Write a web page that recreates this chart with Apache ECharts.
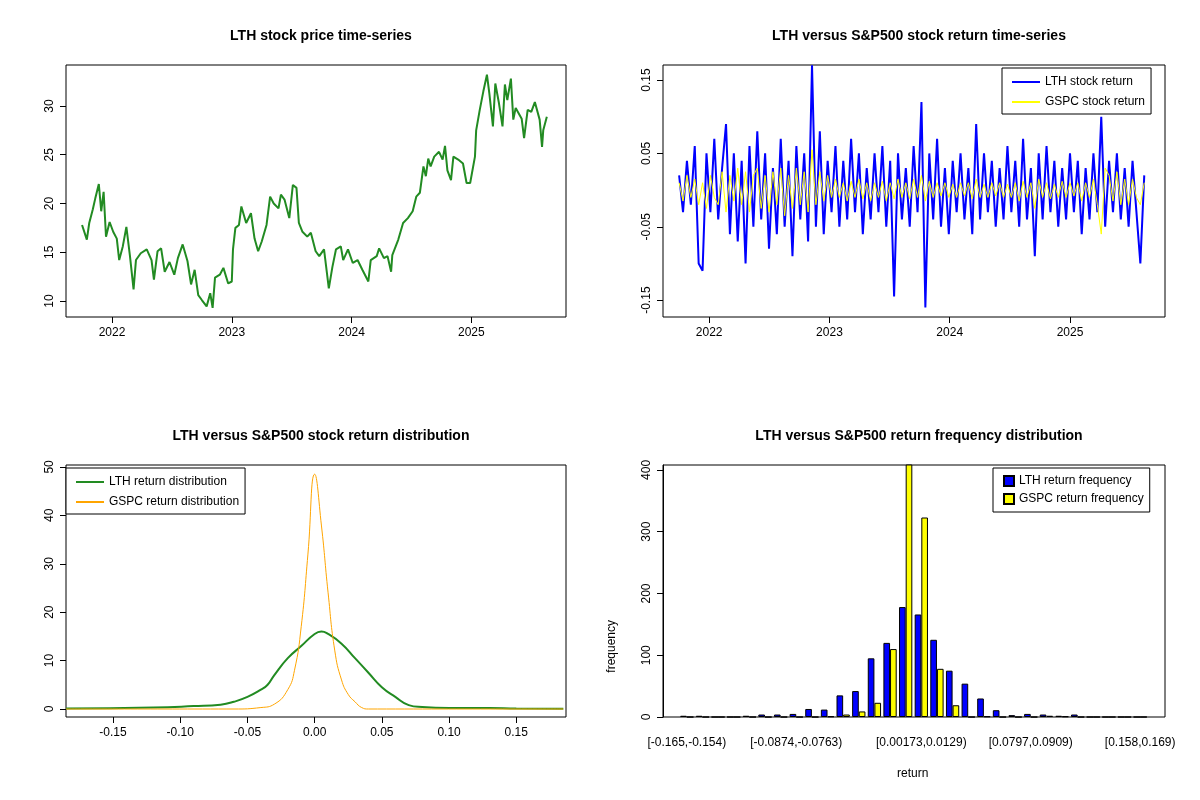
<!DOCTYPE html>
<html><head><meta charset="utf-8">
<script src="https://cdn.jsdelivr.net/npm/echarts@6/dist/echarts.min.js"></script>
<style>body{margin:0;background:#fff}#main{width:1200px;height:800px}</style>
</head><body>
<div id="main"></div>
<script>
// price series (decimal year, price)
var priceYears = [2021.75,2021.79,2021.81,2021.84,2021.86,2021.89,2021.91,2021.93,2021.95,2021.98,2022.01,2022.04,2022.06,2022.09,2022.12,2022.15,2022.18,2022.20,2022.24,2022.29,2022.33,2022.35,2022.38,2022.41,2022.44,2022.48,2022.52,2022.55,2022.59,2022.63,2022.66,2022.69,2022.72,2022.75,2022.79,2022.82,2022.84,2022.86,2022.90,2022.93,2022.97,2023.00,2023.01,2023.03,2023.06,2023.08,2023.12,2023.16,2023.19,2023.22,2023.25,2023.29,2023.32,2023.35,2023.39,2023.41,2023.44,2023.48,2023.51,2023.54,2023.56,2023.59,2023.63,2023.66,2023.70,2023.73,2023.77,2023.81,2023.84,2023.87,2023.91,2023.93,2023.97,2024.01,2024.05,2024.09,2024.14,2024.16,2024.21,2024.23,2024.27,2024.30,2024.33,2024.34,2024.39,2024.43,2024.47,2024.51,2024.54,2024.57,2024.60,2024.62,2024.64,2024.66,2024.69,2024.73,2024.76,2024.78,2024.80,2024.83,2024.85,2024.89,2024.93,2024.96,2024.99,2025.03,2025.04,2025.07,2025.10,2025.13,2025.15,2025.18,2025.20,2025.23,2025.26,2025.28,2025.30,2025.33,2025.35,2025.37,2025.42,2025.44,2025.47,2025.50,2025.53,2025.57,2025.59,2025.60,2025.63];
var prices = [17.8,16.3,18,19.4,20.5,22,19.2,21.2,16.6,18.1,17.1,16.4,14.2,15.6,17.6,14.6,11.2,14.2,14.9,15.3,14.2,12.2,15.1,15.4,13,14,12.7,14.4,15.8,14.1,11.7,13.2,10.6,10.1,9.45,10.8,9.3,12.4,12.7,13.4,11.8,12,15.3,17.5,17.8,19.7,18,19,16.4,15.1,16.1,17.8,20.7,20,19.5,20.9,20.4,18.5,21.9,21.6,18,17.1,16.6,17,15.1,14.6,15.3,11.3,13.5,15.3,15.6,14.2,15.3,13.9,14.2,13.2,12,14.2,14.6,15.4,14.4,14.6,13,14.7,16.3,18,18.5,19.2,20.7,21.1,23.8,22.8,24.6,23.8,24.8,25.3,24.5,25.9,23.4,22.4,24.8,24.5,24.1,22.1,22.1,24.8,27.5,29.6,31.5,33.2,31.3,27.9,32.3,30.3,27.9,32.2,30.6,32.8,28.6,29.8,28.7,26.7,29.6,29.4,30.4,28.6,25.8,27.5,28.9];

// returns, sampled every ~0.0325 year from 2021.75
var retStart = 2021.75, retStep = 0.0325;
var lthRet = [0.02,-0.03,0.04,-0.02,0.06,-0.10,-0.11,0.05,-0.03,0.07,
-0.04,0.03,0.09,-0.06,0.05,-0.07,0.04,-0.10,0.06,-0.05,
0.08,-0.04,0.05,-0.08,0.03,-0.06,0.07,-0.05,0.04,-0.09,
0.06,-0.04,0.05,-0.07,0.17,-0.05,0.08,-0.06,0.04,-0.03,
0.06,-0.05,0.04,-0.04,0.07,-0.03,0.05,-0.06,0.03,-0.04,
0.05,-0.03,0.06,-0.05,0.04,-0.145,0.05,-0.04,0.03,-0.05,
0.06,-0.03,0.12,-0.16,0.05,-0.04,0.07,-0.05,0.03,-0.06,
0.04,-0.03,0.05,-0.04,0.03,-0.06,0.09,-0.04,0.05,-0.03,
0.04,-0.05,0.03,-0.04,0.06,-0.03,0.04,-0.05,0.07,-0.04,
0.03,-0.09,0.05,-0.04,0.06,-0.03,0.04,-0.05,0.03,-0.04,
0.05,-0.03,0.04,-0.06,0.03,-0.04,0.05,-0.03,0.10,-0.05,
0.04,-0.03,0.05,-0.04,0.03,-0.05,0.04,-0.03,-0.10,0.02];
var gspcRet = [0.01,-0.015,0.02,-0.01,0.015,-0.02,0.01,-0.025,0.02,-0.01,
-0.02,0.025,-0.03,0.02,-0.015,0.03,-0.02,0.025,-0.03,0.02,
0.03,-0.025,0.02,-0.03,0.025,-0.02,0.03,-0.035,0.02,-0.025,
0.03,-0.02,0.025,-0.03,0.055,-0.02,0.025,-0.015,0.02,-0.01,
0.015,-0.01,0.01,-0.015,0.012,-0.01,0.015,-0.012,0.01,-0.015,
0.01,-0.01,0.012,-0.015,0.01,-0.012,0.015,-0.01,0.01,-0.012,
0.015,-0.01,0.02,-0.015,0.012,-0.01,0.01,-0.008,0.01,-0.01,
0.008,-0.01,0.01,-0.008,0.01,-0.012,0.015,-0.01,0.008,-0.01,
0.01,-0.008,0.01,-0.01,0.008,-0.01,0.01,-0.015,0.012,-0.01,
0.01,-0.025,0.015,-0.01,0.01,-0.012,0.008,-0.01,0.012,-0.01,
0.01,-0.008,0.01,-0.015,0.01,-0.01,0.015,-0.02,-0.06,0.03,
0.02,-0.015,0.025,-0.02,0.015,-0.02,0.015,-0.01,-0.02,0.01];

// densities
var lthDensX = [-0.185,-0.12,-0.09,-0.07,-0.06,-0.05,-0.04,-0.035,-0.03,-0.02,-0.01,0,0.005,0.01,0.02,0.03,0.04,0.05,0.06,0.07,0.08,0.1,0.13,0.15,0.185];
var lthDensY = [0.1,0.3,0.6,0.9,1.5,2.5,4,5,7,10.5,13,15.5,16,15.5,13.5,10.5,7.5,4.5,2.5,0.8,0.4,0.2,0.2,0.1,0.05];
var gspcDensX = [-0.185,-0.06,-0.04,-0.03,-0.02,-0.015,-0.01,-0.005,0,0.005,0.01,0.015,0.02,0.025,0.03,0.035,0.04,0.185];
var gspcDensY = [0,0,0.3,1,4,8,17,32,48.5,38,24,12,6,3,1.5,0.3,0,0];

// histogram
var bins = ['[-0.165,-0.154)','[-0.154,-0.143)','[-0.143,-0.132)','[-0.132,-0.121)','[-0.121,-0.11)','[-0.11,-0.0985)','[-0.0985,-0.0874)','[-0.0874,-0.0763)','[-0.0763,-0.0651)','[-0.0651,-0.0539)','[-0.0539,-0.0428)','[-0.0428,-0.0317)','[-0.0317,-0.0205)','[-0.0205,-0.00941)','[-0.00941,0.00173)','[0.00173,0.0129)','[0.0129,0.024)','[0.024,0.0351)','[0.0351,0.0463)','[0.0463,0.0574)','[0.0574,0.0685)','[0.0685,0.0797)','[0.0797,0.0909)','[0.0909,0.102)','[0.102,0.113)','[0.113,0.124)','[0.124,0.135)','[0.135,0.146)','[0.146,0.158)','[0.158,0.169)'];
var lthFreq = [2,2,0,0,2,4,4,5,13,12,35,42,95,120,178,166,125,75,54,30,11,3,5,4,2,4,0,0,0,0];
var gspcFreq = [0,0,0,0,0,0,0,0,0,1,4,9,23,110,480,323,78,19,0,1,0,0,0,2,1,0,0,0,0,0];
var shownBins = [0,7,15,22,29];

function zip(a,b){return a.map(function(v,i){return [v,b[i]];});}
var retYears = lthRet.map(function(_,i){return retStart+retStep*i;});

var F = 'Liberation Sans, Arial, sans-serif';
var txt = {color:'#000',fontFamily:F,fontSize:12};
function grid(l,t,w,h){return {left:l,top:t,width:w,height:h,show:true,borderColor:'#000',borderWidth:1,backgroundColor:'transparent'};}
function valAxis(gi,min,max,ticks,rot,fmt){
  return {gridIndex:gi,type:'value',min:min,max:max,scale:true,
    splitLine:{show:false},axisLine:{show:false,onZero:false},
    axisTick:{show:true,length:6,lineStyle:{color:'#000'},customValues:ticks},
    axisLabel:Object.assign({customValues:ticks,rotate:rot,margin:10,formatter:fmt||function(v){return String(v);}},txt)};
}
var yearTicks=[2022,2023,2024,2025];
var lineLegend = {orient:'vertical',itemWidth:28,itemHeight:2,itemGap:8,padding:[8,6,6,10],borderColor:'#000',borderWidth:1,borderRadius:0,
  textStyle:txt,icon:'rect',selectedMode:false,backgroundColor:'#fff'};

var chart = echarts.init(document.getElementById('main'));
chart.setOption({
  animation:false,
  textStyle:{fontFamily:F},
  title:[
    {text:'LTH stock price time-series',left:316,top:24,textAlign:'center',textStyle:{fontSize:14,fontWeight:'bold',fontFamily:F,color:'#000'}},
    {text:'LTH versus S&P500 stock return time-series',left:914,top:24,textAlign:'center',textStyle:{fontSize:14,fontWeight:'bold',fontFamily:F,color:'#000'}},
    {text:'LTH versus S&P500 stock return distribution',left:316,top:424,textAlign:'center',textStyle:{fontSize:14,fontWeight:'bold',fontFamily:F,color:'#000'}},
    {text:'LTH versus S&P500 return frequency distribution',left:914,top:424,textAlign:'center',textStyle:{fontSize:14,fontWeight:'bold',fontFamily:F,color:'#000'}}
  ],
  grid:[grid(66,65,500,252),grid(663,65,502,252),grid(66,465,500,252),
        {left:679,top:465,width:469,height:252,show:false}],
  graphic:[{type:'rect',shape:{x:663,y:465,width:502,height:252},style:{fill:'none',stroke:'#000',lineWidth:1}},
    {type:'text',left:897,top:768,style:{text:'return',font:'12px '+F,fill:'#000'}},
    {type:'text',left:606,top:620,rotation:Math.PI/2,style:{text:'frequency',font:'12px '+F,fill:'#000'}}],
  legend:[
    Object.assign({}, lineLegend, {left:1002,top:68,data:['LTH stock return','GSPC stock return']}),
    Object.assign({}, lineLegend, {left:66,top:468,data:['LTH return distribution','GSPC return distribution']}),
    {orient:'vertical',left:993,top:468,itemWidth:10,itemHeight:10,itemGap:6,padding:[7,6,7,10],borderColor:'#000',borderWidth:1,borderRadius:0,
     textStyle:txt,data:['LTH return frequency','GSPC return frequency'],icon:'rect',selectedMode:false}
  ],
  xAxis:[
    valAxis(0,2021.616,2025.79,yearTicks,0),
    valAxis(1,2021.616,2025.79,yearTicks,0),
    valAxis(2,-0.185,0.187,[-0.15,-0.10,-0.05,0,0.05,0.10,0.15],0,function(v){return v.toFixed(2);}),
    {gridIndex:3,type:'category',data:bins,axisLine:{show:false},axisTick:{show:false},
     axisLabel:Object.assign({margin:20,interval:function(i){return shownBins.indexOf(i)>=0;}},txt)}
  ],
  yAxis:[
    valAxis(0,8.36,34.2,[10,15,20,25,30],90),
    valAxis(1,-0.173,0.1705,[-0.15,-0.05,0.05,0.15],90,function(v){return v.toFixed(2);}),
    valAxis(2,-1.65,50.4,[0,10,20,30,40,50],90),
    {gridIndex:3,type:'value',min:0,max:408,interval:100,offset:16,splitLine:{show:false},
     axisLine:{show:true,onZero:false,lineStyle:{color:'#000'}},axisTick:{show:true,length:6,lineStyle:{color:'#000'}},
     axisLabel:Object.assign({rotate:90,margin:10},txt)}
  ],
  series:[
    {type:'line',xAxisIndex:0,yAxisIndex:0,data:zip(priceYears,prices),showSymbol:false,lineStyle:{color:'#228B22',width:2}},
    {name:'LTH stock return',type:'line',xAxisIndex:1,yAxisIndex:1,data:zip(retYears,lthRet),showSymbol:false,color:'#0000FF',lineStyle:{color:'#0000FF',width:2}},
    {name:'GSPC stock return',type:'line',xAxisIndex:1,yAxisIndex:1,data:zip(retYears,gspcRet),showSymbol:false,color:'#FFFF00',lineStyle:{color:'#FFFF00',width:1}},
    {name:'LTH return distribution',type:'line',smooth:true,xAxisIndex:2,yAxisIndex:2,data:zip(lthDensX,lthDensY),showSymbol:false,color:'#228B22',lineStyle:{color:'#228B22',width:2}},
    {name:'GSPC return distribution',type:'line',smooth:true,xAxisIndex:2,yAxisIndex:2,data:zip(gspcDensX,gspcDensY),showSymbol:false,color:'#FFA500',lineStyle:{color:'#FFA500',width:1}},
    {name:'LTH return frequency',type:'bar',xAxisIndex:3,yAxisIndex:3,data:lthFreq,barGap:'0%',barCategoryGap:'15%',clip:true,
     itemStyle:{color:'#0000FF',borderColor:'#000',borderWidth:1}},
    {name:'GSPC return frequency',type:'bar',xAxisIndex:3,yAxisIndex:3,data:gspcFreq,clip:true,
     itemStyle:{color:'#FFFF00',borderColor:'#000',borderWidth:1}}
  ]
});
</script>
</body></html>
